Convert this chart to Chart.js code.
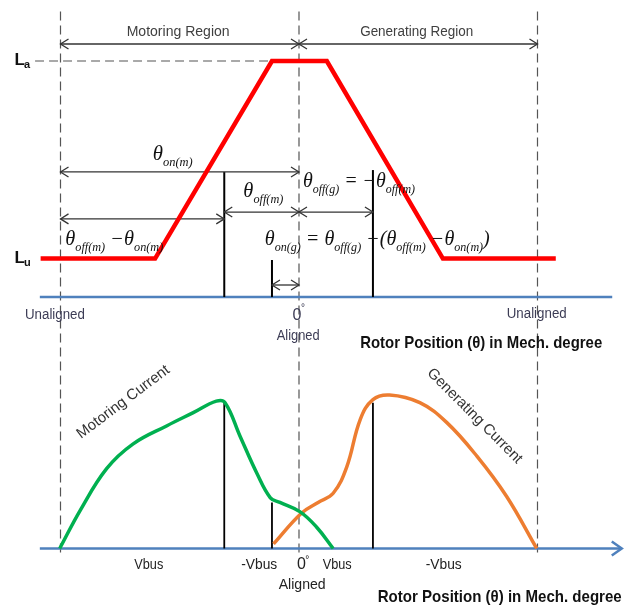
<!DOCTYPE html>
<html>
<head>
<meta charset="utf-8">
<script src="https://cdn.jsdelivr.net/npm/chart.js@4.4.1/dist/chart.umd.min.js"></script>
<style>
  html, body { margin: 0; padding: 0; background: #fff; }
  #wrap { width: 629px; height: 606px; }
</style>
</head>
<body>
<div id="wrap"><canvas id="srmChart" width="629" height="606"></canvas></div>
<script>
// rotor position in mech. degrees, 0 = aligned, +-30 = unaligned
var thetaL = [-32.5, -18.1, -3.4, 3.5, 18.1, 32.3];
var inductance = [0.163, 0.163, 1, 1, 0.163, 0.163]; // per unit of La

var thetaMot = [-30.1, -27.5, -24.2, -20.9, -16.6, -13.3, -10.4, -9.3, -7.4, -5.3, -3.6, -2.4, 0.1, 2.2, 4.3];
var currentMot = [0, 0.25, 0.52, 0.68, 0.80, 0.885, 0.96, 0.95, 0.73, 0.49, 0.33, 0.30, 0.24, 0.14, 0];

var thetaGen = [-3.2, 0.3, 2.4, 4.3, 6.0, 7.7, 9.3, 11.4, 15.2, 18.6, 22.4, 26.1, 29.9];
var currentGen = [0.03, 0.23, 0.30, 0.36, 0.53, 0.84, 0.97, 1.0, 0.95, 0.82, 0.60, 0.34, 0];

var unalignedAngles = [-30, 30];
var alignedAngle = 0;
// theta_off(m), theta_on(g), theta_off(g)
var switchAngles = [-9.4, -3.4, 9.3];
var switchCurrent = [0.95, 0.30, 0.95];

var voltageLabels = ["Vbus", "-Vbus", "Vbus", "-Vbus"];
var voltageAngles = [-18.9, -5.0, 4.8, 18.2];

function pts(xs, ys) {
    return xs.map(function (x, i) { return { x: x, y: ys[i] }; });
}

function line(ctx, x1, y1, x2, y2) {
    ctx.beginPath(); ctx.moveTo(x1, y1); ctx.lineTo(x2, y2); ctx.stroke();
}

function head(ctx, x, y, dir, len, half) {
    ctx.beginPath();
    ctx.moveTo(x - dir * len, y - half);
    ctx.lineTo(x, y);
    ctx.lineTo(x - dir * len, y + half);
    ctx.stroke();
}

function dimArrow(ctx, x1, x2, y) {
    ctx.strokeStyle = '#333'; ctx.lineWidth = 1.3;
    line(ctx, x1, y, x2, y);
    head(ctx, x1, y, -1, 8, 5);
    head(ctx, x2, y, 1, 8, 5);
}

function fitText(ctx, txt, x, y, font, color, width, align, angle) {
    ctx.save();
    ctx.font = font; ctx.fillStyle = color;
    ctx.textAlign = align || 'left';
    var w = ctx.measureText(txt).width;
    var s = width ? width / w : 1;
    ctx.translate(x, y);
    if (angle) ctx.rotate(angle * Math.PI / 180);
    ctx.scale(s, 1);
    ctx.fillText(txt, 0, 0);
    ctx.restore();
}

// "θ_{off(m)} −θ_{on(m)}" style text with subscripts, left aligned
function mathText(ctx, str, x, y, size, width) {
    var toks = str.split(/(_\{[^}]*\})/).filter(function (t) { return t.length; });
    var big = "italic " + size + "px 'Liberation Serif'";
    var small = "italic " + Math.round(size * 0.6) + "px 'Liberation Serif'";
    var total = 0;
    toks.forEach(function (t) {
        ctx.font = t.indexOf('_{') === 0 ? small : big;
        total += ctx.measureText(t.indexOf('_{') === 0 ? t.slice(2, -1) : t).width;
    });
    var s = width ? width / total : 1;
    ctx.save();
    ctx.translate(x, y); ctx.scale(s, 1);
    ctx.fillStyle = '#111'; ctx.textAlign = 'left';
    var cx = 0;
    toks.forEach(function (t) {
        if (t.indexOf('_{') === 0) {
            var sub = t.slice(2, -1);
            ctx.font = small;
            ctx.fillText(sub, cx, size * 0.3);
            cx += ctx.measureText(sub).width;
        } else {
            ctx.font = big;
            ctx.fillText(t, cx, 0);
            cx += ctx.measureText(t).width;
        }
    });
    ctx.restore();
}

var overlay = {
    id: 'overlay',
    beforeDatasetsDraw: function (chart) {
        var ctx = chart.ctx;
        var X = function (v) { return chart.scales.x.getPixelForValue(v); };
        var YL = function (v) { return chart.scales.yL.getPixelForValue(v); };
        var YI = function (v) { return chart.scales.yI.getPixelForValue(v); };
        ctx.save();
        ctx.lineCap = 'butt';

        // dashed guides through unaligned / aligned positions
        ctx.strokeStyle = '#555'; ctx.lineWidth = 1.2; ctx.setLineDash([9, 5]);
        [unalignedAngles[0], alignedAngle, unalignedAngles[1]].forEach(function (a) {
            line(ctx, X(a), YL(1.21), X(a), YI(-0.03));
        });
        line(ctx, X(-33.2), YL(1), X(thetaL[2]), YL(1));
        ctx.setLineDash([]);

        // position axes
        ctx.strokeStyle = '#4f81bd'; ctx.lineWidth = 2.5;
        line(ctx, X(-32.6), YL(0), X(39.4), YL(0));
        line(ctx, X(-32.6), YI(0), X(40.6), YI(0));
        head(ctx, X(40.6), YI(0), 1, 10, 7);

        // switching angle markers
        ctx.strokeStyle = '#000'; ctx.lineWidth = 2;
        line(ctx, X(switchAngles[0]), YL(0), X(switchAngles[0]), YL(0.53));
        line(ctx, X(switchAngles[1]), YL(0), X(switchAngles[1]), YL(0.157));
        line(ctx, X(switchAngles[2]), YL(0), X(switchAngles[2]), YL(0.538));
        ctx.lineWidth = 1.8;
        switchAngles.forEach(function (a, i) {
            line(ctx, X(a), YI(0), X(a), YI(switchCurrent[i]));
        });

        // dimension arrows
        dimArrow(ctx, X(unalignedAngles[0]), X(alignedAngle), YL(1.072));
        dimArrow(ctx, X(alignedAngle), X(unalignedAngles[1]), YL(1.072));
        dimArrow(ctx, X(unalignedAngles[0]), X(alignedAngle), YL(0.53));
        dimArrow(ctx, X(unalignedAngles[0]), X(switchAngles[0]), YL(0.331));
        dimArrow(ctx, X(switchAngles[0]), X(alignedAngle), YL(0.36));
        dimArrow(ctx, X(alignedAngle), X(switchAngles[2]), YL(0.36));
        dimArrow(ctx, X(switchAngles[1]), X(alignedAngle), YL(0.051));
        ctx.restore();
    },
    afterDatasetsDraw: function (chart) {
        var ctx = chart.ctx;
        var X = function (v) { return chart.scales.x.getPixelForValue(v); };
        var YL = function (v) { return chart.scales.yL.getPixelForValue(v); };
        var YI = function (v) { return chart.scales.yI.getPixelForValue(v); };
        var sans = "'Liberation Sans', 'Open Sans', sans-serif";
        ctx.save();
        ctx.textBaseline = 'alphabetic';

        fitText(ctx, 'Motoring Region', X(-15.2), YL(1.106), '14px ' + sans, '#404040', 103, 'center');
        fitText(ctx, 'Generating Region', X(14.8), YL(1.106), '14px ' + sans, '#404040', 113, 'center');

        // La / Lu
        fitText(ctx, 'L', X(-35.8), YL(0.983), 'bold 17px ' + sans, '#111');
        fitText(ctx, 'a', X(-34.6), YL(0.97), 'bold 11px ' + sans, '#111');
        fitText(ctx, 'L', X(-35.8), YL(0.144), 'bold 17px ' + sans, '#111');
        fitText(ctx, 'u', X(-34.6), YL(0.131), 'bold 11px ' + sans, '#111');

        mathText(ctx, 'θ_{on(m)}', X(-18.4), YL(0.581), 20, 40);
        mathText(ctx, 'θ_{off(m)}', X(-7.0), YL(0.424), 20, 40);
        mathText(ctx, 'θ_{off(m)} −θ_{on(m)}', X(-29.4), YL(0.22), 20, 98);
        mathText(ctx, 'θ_{off(g)} = −θ_{off(m)}', X(0.5), YL(0.466), 20, 112);
        mathText(ctx, 'θ_{on(g)} = θ_{off(g)} −(θ_{off(m)} −θ_{on(m)})', X(-4.3), YL(0.22), 20, 225);

        // top axis labels
        fitText(ctx, 'Unaligned', X(-30.7), YL(-0.093), '14px ' + sans, '#3c3c55', 60, 'center');
        fitText(ctx, 'Unaligned', X(29.9), YL(-0.089), '14px ' + sans, '#3c3c55', 60, 'center');
        fitText(ctx, '0', X(-0.25), YL(-0.097), '16px ' + sans, '#3c3c55', 0, 'center');
        fitText(ctx, '°', X(0.5), YL(-0.058), '10px ' + sans, '#3c3c55', 0, 'center');
        fitText(ctx, 'Aligned', X(-0.1), YL(-0.182), '14px ' + sans, '#3c3c55', 43, 'center');
        fitText(ctx, 'Rotor Position (θ) in Mech. degree', X(7.7), YL(-0.216), 'bold 17px ' + sans, '#111', 242);

        // bottom axis labels
        voltageLabels.forEach(function (t, i) {
            fitText(ctx, t, X(voltageAngles[i]), YI(-0.134), '14px ' + sans, '#222', t.length > 4 ? 36 : 29, 'center');
        });
        fitText(ctx, '0', X(0.3), YI(-0.134), '16px ' + sans, '#222', 0, 'center');
        fitText(ctx, '°', X(1.05), YI(-0.092), '10px ' + sans, '#222', 0, 'center');
        fitText(ctx, 'Aligned', X(0.4), YI(-0.264), '15px ' + sans, '#222', 47, 'center');
        fitText(ctx, 'Rotor Position (θ) in Mech. degree', X(9.9), YI(-0.349), 'bold 17px ' + sans, '#111', 244);

        // curve names
        ctx.textBaseline = 'middle';
        fitText(ctx, 'Motoring Current', X(-22.1), YI(0.954), '15px ' + sans, '#333', 112, 'center', -37);
        fitText(ctx, 'Generating Current', X(22.1), YI(0.863), '15px ' + sans, '#333', 128, 'center', 45);
        ctx.restore();
    }
};

var ctx = document.getElementById('srmChart').getContext('2d');

var srmChart = new Chart(ctx, {
    type: 'line',
    data: {
        datasets: [
            {
                label: 'Phase inductance',
                data: pts(thetaL, inductance),
                yAxisID: 'yL',
                borderColor: '#ff0000',
                borderWidth: 4.5,
                pointRadius: 0,
                tension: 0
            },
            {
                label: 'Motoring current',
                data: pts(thetaMot, currentMot),
                yAxisID: 'yI',
                borderColor: '#00b050',
                borderWidth: 3.5,
                pointRadius: 0,
                tension: 0.4
            },
            {
                label: 'Generating current',
                data: pts(thetaGen, currentGen),
                yAxisID: 'yI',
                borderColor: '#ed7d31',
                borderWidth: 3.5,
                pointRadius: 0,
                tension: 0.4
            }
        ]
    },
    options: {
        responsive: false,
        animation: false,
        layout: { padding: 0 },
        plugins: { legend: { display: false }, tooltip: { enabled: false } },
        scales: {
            x: { type: 'linear', display: false, min: -37.61, max: 41.51 },
            yL: { type: 'linear', display: false, min: -1.309, max: 1.2585 },
            yI: { type: 'linear', display: false, min: -0.3746, max: 3.573 }
        }
    },
    plugins: [overlay]
});
</script>
</body>
</html>
